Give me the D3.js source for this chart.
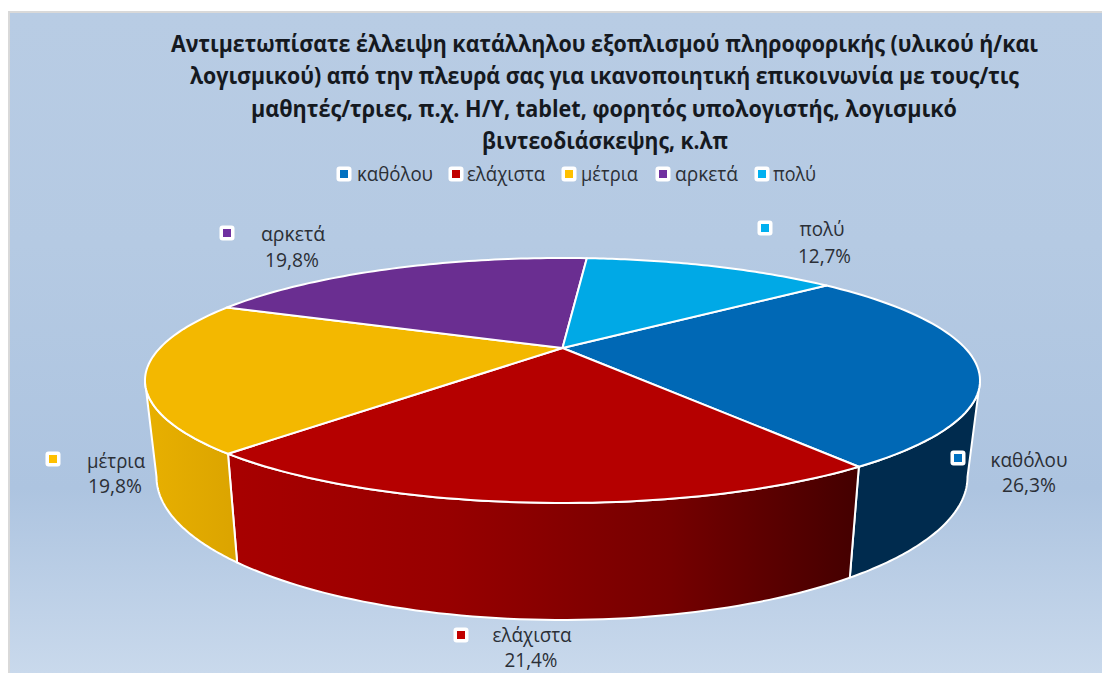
<!DOCTYPE html>
<html><head><meta charset="utf-8">
<style>html,body{margin:0;padding:0;background:#fff}svg{display:block}text{font-family:"Open Sans","Noto Sans",sans-serif}</style>
<script src="https://cdn.jsdelivr.net/npm/d3@7"></script></head><body>
<script>
const categories = ["καθόλου","ελάχιστα","μέτρια","αρκετά","πολύ"];
const values = [26.3,21.4,19.8,19.8,12.7];
const valueLabels = ["26,3%","21,4%","19,8%","19,8%","12,7%"];
const titleLines = ["Αντιμετωπίσατε έλλειψη κατάλληλου εξοπλισμού πληροφορικής (υλικού ή/και","λογισμικού) από την πλευρά σας για ικανοποιητική επικοινωνία με τους/τις","μαθητές/τριες, π.χ. Η/Υ, tablet, φορητός υπολογιστής, λογισμικό","βιντεοδιάσκεψης, κ.λπ"];
const topColors = ["#0068B5","#B50000","#F3B800","#6A2E91","#00A9E6"];
const markerColors = ["#0070C0","#C00000","#FFC000","#7030A0","#00B0F0"];

const W=1102,H=673;
const svg=d3.select("body").append("svg").attr("width",W).attr("height",H);
const defs=svg.append("defs");
const bg=defs.append("linearGradient").attr("id","bg").attr("x1",0).attr("x2",0).attr("y1",0).attr("y2",1);
[[0,"#B8CCE4"],[0.35,"#B5CAE3"],[0.72,"#ADC4E0"],[1,"#C9D9EC"]].forEach(s=>bg.append("stop").attr("offset",s[0]).attr("stop-color",s[1]));
function wallGrad(id,x1,x2,stops){const g=defs.append("linearGradient").attr("id",id).attr("gradientUnits","userSpaceOnUse").attr("x1",x1).attr("x2",x2).attr("y1",0).attr("y2",0);stops.forEach(s=>g.append("stop").attr("offset",s[0]).attr("stop-color",s[1]));}
wallGrad("w0",852,975,[[0,"#002B4E"],[1,"#002B4E"]]);
wallGrad("w1",228,860,[[0,"#A80000"],[0.35,"#970000"],[0.7,"#750000"],[1,"#430000"]]);
wallGrad("w2",145,237,[[0,"#E8B000"],[1,"#DBA400"]]);

svg.append("rect").attr("x",8).attr("y",11).attr("width",W-8).attr("height",H-11).attr("fill","#D9D9D9");
svg.append("rect").attr("x",10).attr("y",13).attr("width",W-10).attr("height",H-13).attr("fill","url(#bg)");

// perspective disc projection
const p=0.265;
const top3={cx:562.5,cy:348,A:402.6,B:113.9};
const bot3={cx:562,cy:439,A:391,B:133};
function proj(d,a){const u=Math.sin(a),v=-Math.cos(a),w=1-p*v;return [d.cx+d.A*u/w,d.cy+d.B*v/w];}
const deg=Math.PI/180;
const start=50.1*deg;
const arcs=d3.pie().sort(null).value(d=>d).startAngle(start).endAngle(start+2*Math.PI)(values);
const line=d3.line();
function rim(d,a0,a1){return d3.range(0,61).map(i=>proj(d,a0+(a1-a0)*i/60));}
const tangentR=Math.PI-Math.acos(p), tangentL=Math.PI+Math.acos(p);

// side walls, only front-facing parts
const g=svg.append("g").attr("stroke","#fff").attr("stroke-width",2).attr("stroke-linejoin","round");
arcs.forEach((a,i)=>{
  const a0=Math.max(a.startAngle,tangentR),a1=Math.min(a.endAngle,tangentL);
  if(a1<=a0)return;
  const pts=rim(top3,a0,a1).concat(rim(bot3,a0,a1).reverse());
  g.append("path").attr("d",line(pts)+"Z").attr("fill",`url(#w${i})`);
});
// top face
arcs.forEach((a,i)=>{
  const pts=[[top3.cx,top3.cy]].concat(rim(top3,a.startAngle,a.endAngle));
  g.append("path").attr("d",line(pts)+"Z").attr("fill",topColors[i]);
});

// title: [x left, baseline, width]
const titleSpec=[[171,52,867],[190,84,829],[251,117,706],[482,149,246]];
svg.append("g").selectAll("text").data(titleLines).join("text")
 .attr("x",(d,i)=>titleSpec[i][0]).attr("y",(d,i)=>titleSpec[i][1])
 .attr("font-size",22.5).attr("font-weight",700).attr("fill","#15191F")
 .attr("textLength",(d,i)=>titleSpec[i][2]).attr("lengthAdjust","spacingAndGlyphs").text(d=>d);

function marker(x,y,c){
 svg.append("rect").attr("x",x-7.5).attr("y",y-7.5).attr("width",15).attr("height",15).attr("rx",3).attr("fill","#fff");
 svg.append("rect").attr("x",x-4).attr("y",y-4).attr("width",8).attr("height",8).attr("fill",c);
}
const textColor="#2B2F36";
// legend: [marker x, text x, text width]
const legendSpec=[[344,357,76],[456,467,78],[569,581,57],[663,675,63],[762,773,43]];
categories.forEach((c,i)=>{
 const s=legendSpec[i];
 marker(s[0],174,markerColors[i]);
 svg.append("text").attr("x",s[1]).attr("y",181).attr("font-size",20).attr("fill",textColor)
  .attr("textLength",s[2]).attr("lengthAdjust","spacingAndGlyphs").text(c);
});
// data labels: [markerX, markerY, nameX, nameBase, valX, valBase, nameWidth, valWidth]
const labelSpec=[[958,458,1029,467,1029,492,77,54],[461,635,532,642,531,667,79,53],[53,459,116,468,115,493,58,54],[227,233,293,241,292,267,64,54],[765,228,822,236,824.5,263,45,53]];
categories.forEach((c,i)=>{
 const s=labelSpec[i];
 marker(s[0],s[1],markerColors[i]);
 svg.append("text").attr("x",s[2]).attr("y",s[3]).attr("text-anchor","middle").attr("font-size",20).attr("fill",textColor)
  .attr("textLength",s[6]).attr("lengthAdjust","spacingAndGlyphs").text(c);
 svg.append("text").attr("x",s[4]).attr("y",s[5]).attr("text-anchor","middle").attr("font-size",20).attr("fill",textColor)
  .attr("textLength",s[7]).attr("lengthAdjust","spacingAndGlyphs").text(valueLabels[i]);
});
</script></body></html>
